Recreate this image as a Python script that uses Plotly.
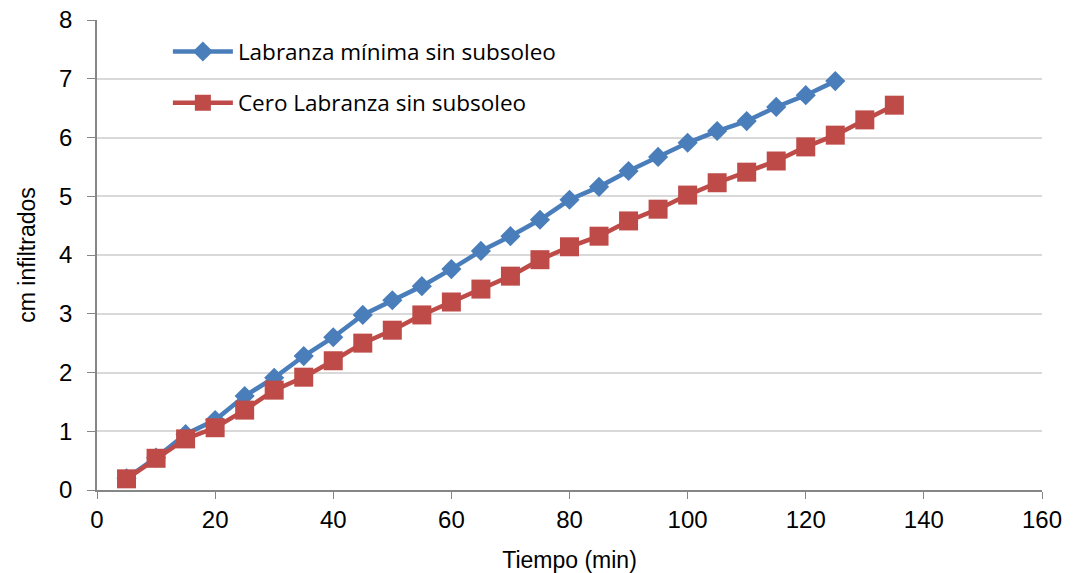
import plotly.graph_objects as go

tiempo_a = [5, 10, 15, 20, 25, 30, 35, 40, 45, 50, 55, 60, 65, 70, 75, 80, 85, 90, 95, 100, 105, 110, 115, 120, 125]
labranza_minima = [0.2, 0.55, 0.95, 1.19, 1.6, 1.91, 2.28, 2.6, 2.98, 3.23, 3.47, 3.76, 4.07, 4.32, 4.6, 4.94, 5.16, 5.43, 5.67, 5.91, 6.11, 6.28, 6.52, 6.72, 6.96]

tiempo_b = [5, 10, 15, 20, 25, 30, 35, 40, 45, 50, 55, 60, 65, 70, 75, 80, 85, 90, 95, 100, 105, 110, 115, 120, 125, 130, 135]
cero_labranza = [0.19, 0.54, 0.87, 1.06, 1.36, 1.7, 1.92, 2.2, 2.5, 2.72, 2.98, 3.2, 3.42, 3.64, 3.92, 4.14, 4.32, 4.58, 4.78, 5.02, 5.23, 5.41, 5.6, 5.84, 6.04, 6.3, 6.55]

fig = go.Figure()
fig.add_trace(go.Scatter(
    x=tiempo_a, y=labranza_minima, mode="lines+markers",
    name="Labranza mínima sin subsoleo", legendgroup="a",
    line=dict(color="#4A7EBB", width=4.5),
    marker=dict(symbol="diamond", size=15.5, color="#4A7EBB"),
))
fig.add_trace(go.Scatter(
    x=tiempo_b, y=cero_labranza, mode="lines+markers",
    name="Cero Labranza sin subsoleo", legendgroup="b",
    line=dict(color="#BE4B48", width=4.5),
    marker=dict(symbol="square", size=19, color="#BE4B48"),
))

fig.update_layout(
    width=1074, height=573,
    margin=dict(l=97, r=32, t=20, b=83),
    paper_bgcolor="white", plot_bgcolor="white",
    font=dict(family="Liberation Sans, Arial, sans-serif", color="black"),
    showlegend=True,
    legend=dict(
        x=0.075, y=0.978, xanchor="left", yanchor="top",
        bgcolor="rgba(0,0,0,0)",
        font=dict(family="Open Sans, sans-serif", size=22.5, color="black"),
        tracegroupgap=19, traceorder="grouped", itemwidth=60,
    ),
    xaxis=dict(
        range=[0, 160], dtick=20, tick0=0,
        showgrid=False, zeroline=False, automargin=False,
        showline=True, linecolor="#868686", linewidth=1.5,
        ticks="outside", ticklen=7, tickcolor="#868686",
        tickfont=dict(size=24),
        title=dict(text="Tiempo (min)", font=dict(size=23), standoff=20),
    ),
    yaxis=dict(
        range=[0, 8], dtick=1, tick0=0,
        showgrid=True, gridcolor="#D9D9D9", gridwidth=1.5,
        zeroline=False, automargin=False,
        showline=True, linecolor="#868686", linewidth=1.5,
        ticks="outside", ticklen=8, tickcolor="#868686",
        ticklabelstandoff=10,
        tickfont=dict(size=24),
        title=dict(text="cm infiltrados", font=dict(size=23), standoff=17),
    ),
)

fig.write_html("out.html")
